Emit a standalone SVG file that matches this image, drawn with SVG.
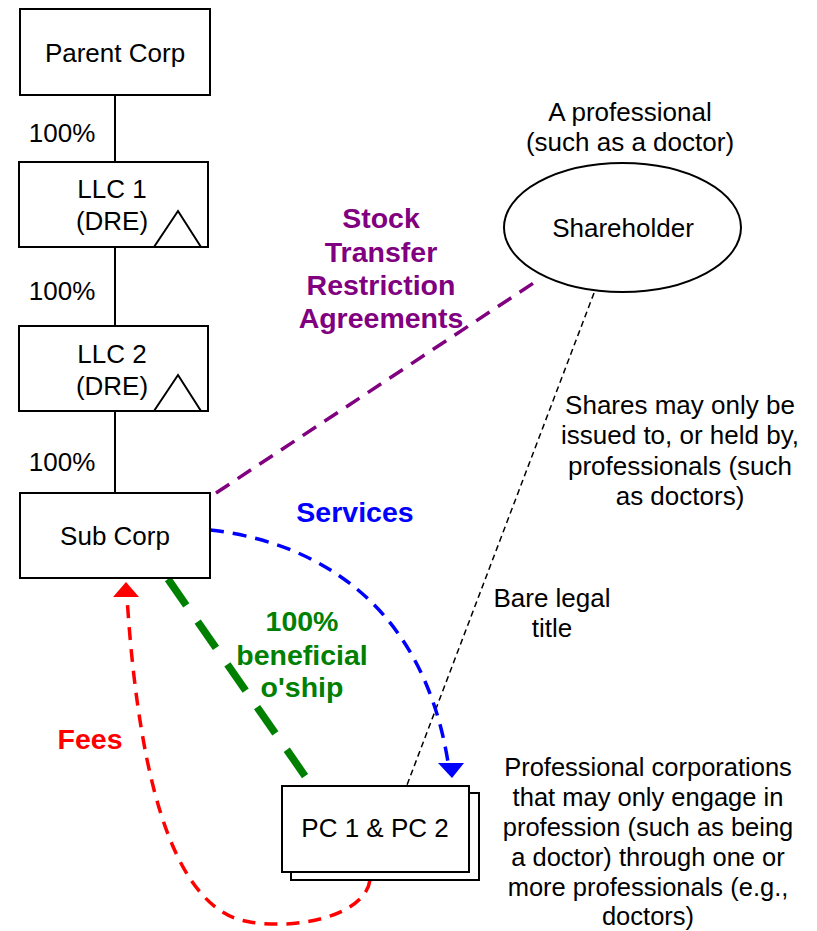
<svg xmlns="http://www.w3.org/2000/svg" width="817" height="931" viewBox="0 0 817 931">
<style>
text{font-family:"Liberation Sans",Arial,sans-serif;font-size:26px;fill:#000;text-anchor:middle}
.b{font-weight:bold;font-size:28.5px}
.s{font-size:25.5px}
.box{fill:#fff;stroke:#000;stroke-width:2}
.tri{fill:none;stroke:#000;stroke-width:2}
.solid{stroke:#000;stroke-width:2;fill:none}
</style>
<rect width="817" height="931" fill="#fff"/>
<g id="connectors">
  <line class="solid" x1="115" y1="95" x2="115" y2="162"/>
  <line class="solid" x1="115" y1="247" x2="115" y2="326"/>
  <line class="solid" x1="115" y1="411" x2="115" y2="493"/>
  <line x1="216" y1="493" x2="535" y2="282" stroke="#800080" stroke-width="3.5" stroke-dasharray="16,10"/>
  <line x1="594" y1="293" x2="407" y2="785" stroke="#000" stroke-width="1.5" stroke-dasharray="6,4"/>
  <path d="M210,530 C300,540 420,590 448,762" fill="none" stroke="#0000ff" stroke-width="3.5" stroke-dasharray="14,9"/>
  <polygon points="438,763 464,763 452,778" fill="#0000ff"/>
  <line x1="168" y1="579" x2="312" y2="786" stroke="#008000" stroke-width="7.5" stroke-dasharray="32,20"/>
  <path d="M370,880 C365,915 300,930 250,922 C180,912 140,800 127,597" fill="none" stroke="#ff0000" stroke-width="3.5" stroke-dasharray="13,9"/>
  <polygon points="113,597 139,597 126,582" fill="#ff0000"/>
</g>
<g id="parent">
  <rect class="box" x="20" y="9" width="190" height="86"/>
  <text x="115" y="62">Parent Corp</text>
</g>
<text x="62" y="142">100%</text>
<g id="llc1">
  <rect class="box" x="19" y="162" width="189" height="85"/>
  <polyline class="tri" points="154,247 178,211 201,247"/>
  <text x="112" y="198">LLC 1</text>
  <text x="112" y="230">(DRE)</text>
</g>
<text x="62" y="300">100%</text>
<g id="llc2">
  <rect class="box" x="19" y="326" width="189" height="85"/>
  <polyline class="tri" points="154,411 178,375 201,411"/>
  <text x="112" y="363">LLC 2</text>
  <text x="112" y="395">(DRE)</text>
</g>
<text x="62" y="471">100%</text>
<g id="subcorp">
  <rect class="box" x="20" y="493" width="190" height="85"/>
  <text x="115" y="545">Sub Corp</text>
</g>
<g id="shareholder">
  <ellipse cx="622.5" cy="227.5" rx="118.5" ry="64.5" fill="#fff" stroke="#000" stroke-width="2"/>
  <text x="623" y="237">Shareholder</text>
  <text x="630" y="121">A professional</text>
  <text x="630" y="151">(such as a doctor)</text>
</g>
<g id="pc">
  <rect class="box" x="291" y="793" width="188" height="87"/>
  <rect class="box" x="282" y="786" width="187" height="86"/>
  <text x="375" y="837">PC 1 &amp; PC 2</text>
</g>
<g id="labels">
  <text class="b" x="381" y="228" style="fill:#800080">Stock</text>
  <text class="b" x="381" y="262" style="fill:#800080">Transfer</text>
  <text class="b" x="381" y="295" style="fill:#800080">Restriction</text>
  <text class="b" x="381" y="328" style="fill:#800080">Agreements</text>
  <text class="b" x="355" y="522" style="fill:#0000ff">Services</text>
  <text class="b" x="302" y="631" style="fill:#008000">100%</text>
  <text class="b" x="302" y="665" style="fill:#008000">beneficial</text>
  <text class="b" x="302" y="697" style="fill:#008000">o'ship</text>
  <text class="b" x="90" y="749" style="fill:#ff0000">Fees</text>
  <text x="680" y="414">Shares may only be</text>
  <text x="680" y="444">issued to, or held by,</text>
  <text x="680" y="475">professionals (such</text>
  <text x="680" y="505">as doctors)</text>
  <text x="552" y="607">Bare legal</text>
  <text x="552" y="637">title</text>
  <text class="s" x="648" y="776">Professional corporations</text>
  <text class="s" x="648" y="806">that may only engage in</text>
  <text class="s" x="648" y="836">profession (such as being</text>
  <text class="s" x="648" y="866">a doctor) through one or</text>
  <text class="s" x="648" y="896">more professionals (e.g.,</text>
  <text class="s" x="648" y="925">doctors)</text>
</g>
</svg>
